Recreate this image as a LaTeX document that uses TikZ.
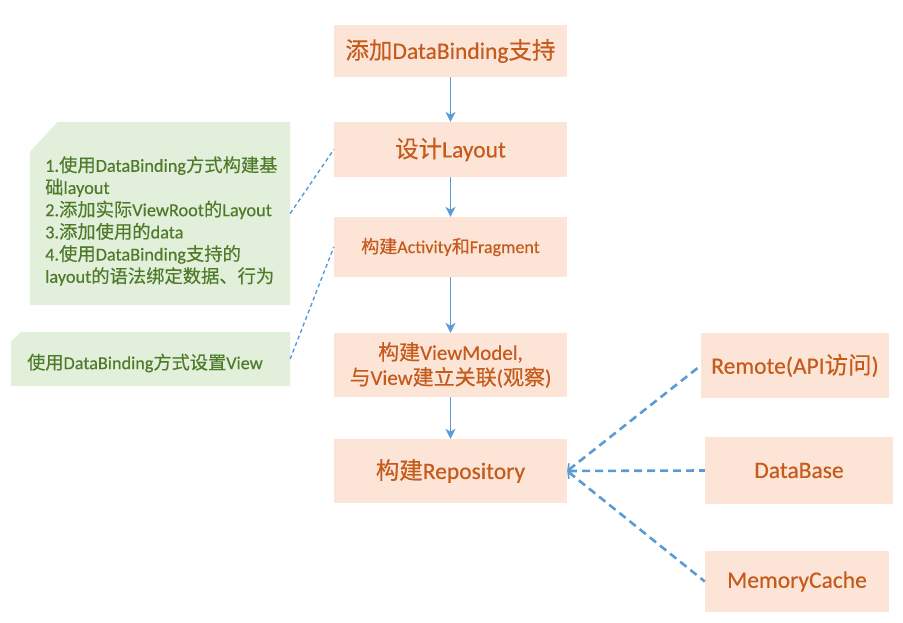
\documentclass[tikz,border=0pt]{standalone}
\usepackage{fontspec}
\setmainfont[FakeBold=0.3]{Carlito}
\newfontfamily\cjk[FakeBold=0.3]{Noto Sans CJK SC}
\newcommand{\C}[1]{{\cjk #1}}
\usetikzlibrary{arrows.meta}
\definecolor{boxfill}{HTML}{FCE4D6}
\definecolor{boxtext}{HTML}{C55A1B}
\definecolor{notefill}{HTML}{E2EFDA}
\definecolor{notetext}{HTML}{4F7A2A}
\definecolor{lineblue}{HTML}{5B9BD5}
\tikzset{
  stepbox/.style={fill=boxfill, draw=none, text=boxtext, inner sep=0pt, align=center},
  flow/.style={draw=lineblue, line width=1pt, -{Stealth[length=10pt,width=10pt,inset=3pt]}},
  notelink/.style={draw=lineblue, line width=1.4pt, dash pattern=on 4pt off 3pt},
  repolink/.style={draw=lineblue, line width=2.6pt, dash pattern=on 8pt off 5pt, {Straight Barb[length=5pt,width=10pt,line width=1.6pt]}-},
  notetextstyle/.style={text=notetext, align=left, inner sep=0pt, anchor=west},
  big/.style={font=\fontsize{23.5}{27}\selectfont},
}
\begin{document}
\begin{tikzpicture}[x=1pt,y=-1pt]
\useasboundingbox (0,0) rectangle (903,623);
% main steps
\node[stepbox, big, minimum width=233pt, minimum height=52pt] (b1) at (450.5,51) {\C{添加}DataBinding\C{支持}};
\node[stepbox, big, minimum width=233pt, minimum height=55pt] (b2) at (450.5,149.5) {\C{设计}Layout};
\node[stepbox, minimum width=233pt, minimum height=60pt, font=\fontsize{18}{22}\selectfont] (b3) at (450.5,247) {\C{构建}Activity\C{和}Fragment};
\node[stepbox, minimum width=233pt, minimum height=64pt, font=\fontsize{21}{25}\selectfont] (b4) at (450.5,365) {\C{构建}ViewModel,\\\C{与}View\C{建立关联}(\C{观察})};
\node[stepbox, big, minimum width=233pt, minimum height=64pt] (b5) at (450.5,471) {\C{构建}Repository};
% data sources
\node[stepbox, big, minimum width=188pt, minimum height=65pt] (r1) at (795,365.5) {Remote(API\C{访问})};
\node[stepbox, big, minimum width=188pt, minimum height=67pt] (r2) at (799,470.5) {DataBase};
\node[stepbox, big, minimum width=184pt, minimum height=61pt] (r3) at (797,581.5) {MemoryCache};
% notes
\node[minimum width=260pt, minimum height=183pt, inner sep=0pt] (n1) at (160,213.5) {};
\fill[notefill] ([yshift=-30pt]n1.north west) -- ([xshift=28pt]n1.north west) -- (n1.north east) -- (n1.south east) -- (n1.south west) -- cycle;
\node[notetextstyle, font=\fontsize{18.3}{22.2}\selectfont] (t1) at (45,221) {1.\C{使用}DataBinding\C{方式构建基}\\\C{础}layout\\2.\C{添加实际}ViewRoot\C{的}Layout\\3.\C{添加使用的}data\\4.\C{使用}DataBinding\C{支持的}\\layout\C{的语法绑定数据、行为}};
\node[minimum width=279pt, minimum height=54pt, inner sep=0pt] (n2) at (150.5,359) {};
\fill[notefill] ([yshift=-10pt]n2.north west) -- ([xshift=10pt]n2.north west) -- (n2.north east) -- (n2.south east) -- (n2.south west) -- cycle;
\node[notetextstyle, font=\fontsize{18.2}{22}\selectfont] (t2) at (27,363) {\C{使用}DataBinding\C{方式设置}View};
% flow arrows
\draw[flow] (b1) -- (b2);
\draw[flow] (b2) -- (b3);
\draw[flow] (b3) -- (b4);
\draw[flow] (b4) -- (b5);
% note links
\draw[notelink] (n1.east) -- (b2.west);
\draw[notelink] (n2.east) -- (b3.west);
% repository links
\draw[repolink] (b5.east) -- (r1.west);
\draw[repolink] (b5.east) -- (r2.west);
\draw[repolink] (b5.east) -- (r3.west);
\end{tikzpicture}
\end{document}
